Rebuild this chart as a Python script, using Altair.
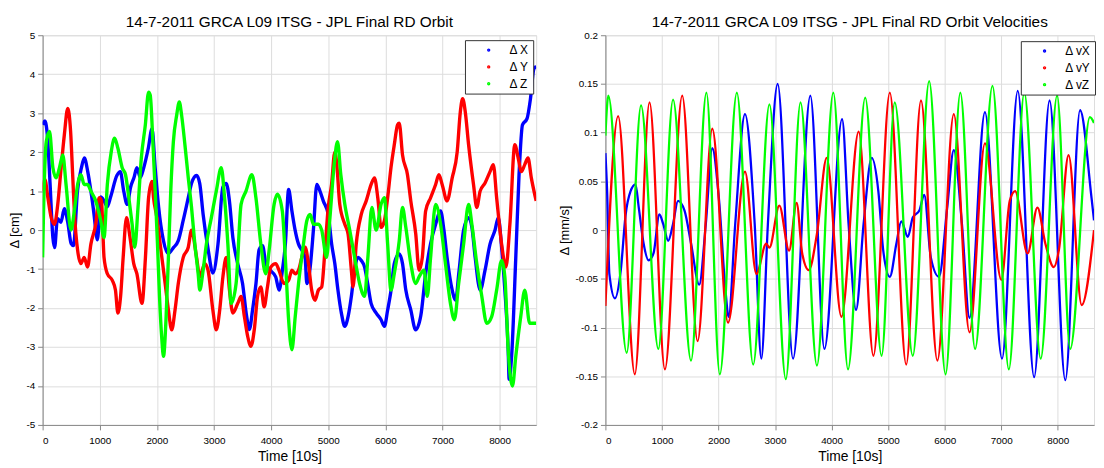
import altair as alt
import pandas as pd

FONT = "Liberation Sans"
COLORS = ["#0000ff", "#ff0000", "#00ff00"]

# ---------------- Position differences [cm] ----------------
pos_names = ["Δ X", "Δ Y", "Δ Z"]

dx_t = [0, 40, 90, 130, 180, 210, 260, 320, 380, 440, 500, 540, 610, 680, 730, 790, 845, 900, 930, 960,
        1017, 1075, 1130, 1190, 1300, 1360, 1420, 1480, 1540, 1600, 1650, 1710, 1770, 1850, 1915, 1970,
        2030, 2115, 2200, 2290, 2375, 2460, 2550, 2607, 2695, 2750, 2810, 2900, 2980, 3070, 3155, 3214,
        3270, 3330, 3415, 3500, 3570, 3620, 3675, 3735, 3790, 3850, 3907, 3965, 4080, 4140, 4200, 4250,
        4306, 4364, 4420, 4480, 4540, 4595, 4625, 4680, 4740, 4800, 4855, 4913, 5000, 5060, 5115, 5170,
        5230, 5290, 5350, 5405, 5460, 5520, 5578, 5636, 5690, 5750, 5840, 5925, 5983, 6040, 6100, 6156,
        6243, 6300, 6358, 6445, 6530, 6620, 6705, 6790, 6880, 6967, 7025, 7080, 7170, 7230, 7285, 7370,
        7457, 7515, 7572, 7660, 7745, 7832, 7920, 7977, 8035, 8092, 8150, 8167, 8210, 8283, 8340, 8400,
        8480, 8540, 8600, 8640]
dx_v = [2.7, 2.8, 2.3, 1.2, -0.2, -0.45, 0.3, 0.2, 0.55, 0.2, -0.35, -0.4, 1.0, 1.6, 1.85, 1.5, 1.0, 0.4, 0.0, -0.25,
        0.85, 0.75, 0.6, 0.85, 1.4, 1.5, 1.0, 0.66, 1.1, 1.35, 1.6, 1.35, 1.6, 2.1, 2.6, 1.6,
        0.6, -0.27, -0.6, -0.45, -0.27, 0.24, 0.83, 1.2, 1.4, 1.2, 0.4, -0.52, -1.1, -0.36, 1.1, 1.2,
        0.75, -0.19, -0.86, -1.37, -2.2, -2.55, -2.05, -1.37, -0.5, -0.4, -0.86, -1.0, -1.2, -1.54, -1.0, -0.35,
        1.04, 0.49, 0.0, -0.36, -0.52, -0.7, -1.37, -1.0, 0.0, 1.17, 1.0, 0.75, 0.4, -0.36, -0.86, -1.54,
        -2.13, -2.47, -2.2, -1.7, -1.03, -0.7, -0.78, -0.95, -1.37, -1.88, -2.13, -2.3, -2.47, -2.05, -1.54, -0.86,
        -0.61, -0.86, -1.54, -2.05, -2.56, -2.2, -1.12, -0.36, 0.15, 0.49, 0.0, -0.7, -1.54, -1.8, -1.12, 0.0,
        0.32, 0.07, -0.7, -1.54, -1.03, -0.36, 0.0, 0.32, -0.44, -1.54, -3.07, -3.83, -3.24, -0.7, 1.42, 2.7,
        2.86, 3.37, 4.14, 4.2]

dy_t = [0, 40, 92, 150, 208, 265, 324, 380, 440, 490, 526, 555, 613, 670, 728, 786, 845, 930, 990, 1030,
        1075, 1133, 1220, 1275, 1318, 1365, 1410, 1468, 1530, 1595, 1650, 1740, 1800, 1855, 1915, 1942,
        2000, 2058, 2145, 2202, 2260, 2318, 2375, 2462, 2550, 2607, 2695, 2751, 2838, 2896, 2980, 3040,
        3100, 3156, 3214, 3271, 3330, 3416, 3474, 3532, 3590, 3647, 3705, 3763, 3820, 3878, 3936, 3994,
        4080, 4138, 4225, 4306, 4364, 4422, 4480, 4537, 4595, 4653, 4710, 4770, 4827, 4885, 4942, 5000,
        5058, 5115, 5145, 5202, 5290, 5347, 5405, 5434, 5490, 5578, 5665, 5751, 5810, 5867, 5925, 5983,
        6040, 6098, 6156, 6214, 6243, 6300, 6387, 6445, 6532, 6590, 6647, 6705, 6792, 6880, 6937, 6994,
        7080, 7170, 7257, 7312, 7353, 7399, 7457, 7543, 7600, 7659, 7745, 7832, 7890, 7948, 8035, 8110,
        8180, 8266, 8325, 8381, 8440, 8497, 8555, 8640]
dy_v = [1.0, 1.3, 0.83, 0.32, 0.15, 0.66, 1.6, 2.44, 3.12, 2.53, 1.42, 0.49, -0.52, -0.86, -0.7, -0.95, -0.36, 0.15, 0.83, 0.75,
        -0.7, -1.12, -1.29, -1.54, -2.13, -1.7, -0.7, 0.32, -0.19, -0.86, -1.12, -1.88, -0.7, 0.83, 1.25, 0.83,
        0.32, -0.36, -1.37, -2.05, -2.56, -2.05, -1.37, -0.7, -0.44, 0.0, -0.7, -1.2, -0.86, -1.03, -2.05, -2.56,
        -2.05, -1.2, -0.7, -1.54, -2.13, -1.88, -1.7, -2.22, -2.73, -2.98, -2.56, -1.7, -1.46, -1.97, -1.46, -0.95,
        -0.86, -1.03, -1.37, -1.29, -1.03, -1.12, -1.03, -0.7, -0.44, -0.86, -1.54, -1.8, -1.54, -1.46, -0.52, 0.58,
        1.17, 2.0, 1.76, 0.66, 0.15, -0.1, -1.03, -1.46, -0.36, 0.4, 0.75, 1.17, 1.34, 0.83, 0.07, 0.24,
        0.83, 1.6, 2.19, 2.7, 2.74, 1.93, 1.42, 0.75, -0.1, -1.03, -0.7, 0.49, 0.83, 1.17, 1.42, 1.17,
        0.75, 1.34, 2.0, 3.03, 3.37, 3.03, 2.19, 1.17, 0.58, 1.0, 1.21, 1.5, 1.68, 0.83, -0.36, -0.95,
        0.15, 2.19, 1.85, 1.5, 1.68, 1.85, 1.34, 0.75]

dz_t = [0, 15, 64, 121, 180, 237, 295, 353, 410, 497, 555, 613, 670, 728, 786, 844, 930, 1017, 1075, 1133,
        1202, 1260, 1318, 1393, 1451, 1509, 1567, 1613, 1670, 1728, 1798, 1855, 1884, 1930, 1971, 2011,
        2046, 2087, 2116, 2162, 2202, 2243, 2289, 2347, 2393, 2433, 2491, 2550, 2607, 2665, 2723, 2751,
        2810, 2867, 2954, 3040, 3127, 3185, 3243, 3300, 3387, 3474, 3560, 3664, 3734, 3820, 3907, 3965,
        4052, 4110, 4196, 4254, 4306, 4364, 4422, 4480, 4566, 4625, 4683, 4740, 4827, 4885, 4971, 5030,
        5104, 5162, 5220, 5290, 5376, 5462, 5549, 5636, 5694, 5763, 5838, 5925, 5983, 6040, 6098, 6156,
        6243, 6300, 6358, 6445, 6532, 6590, 6676, 6734, 6792, 6880, 6967, 7052, 7139, 7208, 7283, 7370,
        7457, 7514, 7600, 7688, 7775, 7861, 7948, 8035, 8092, 8150, 8225, 8283, 8370, 8440, 8526, 8640]
dz_v = [-0.7, 0.4, 2.27, 2.53, 1.6, 1.34, 1.6, 1.93, 1.17, 0.0, 0.49, 1.17, 1.42, 1.17, 1.17, 1.0, 0.75, 0.24, -0.19, 1.17,
        2.02, 2.36, 2.1, 1.6, 1.42, 0.83, 0.15, -0.44, 0.58, 1.85, 2.7, 3.54, 3.46, 2.27, 1.0, -0.36,
        -1.7, -2.8, -3.24, -2.22, -0.7, 1.0, 2.27, 2.95, 3.29, 2.95, 2.19, 1.34, 0.58, -0.36, -1.12, -1.54,
        -1.03, -0.36, 0.32, 1.0, 1.6, 0.83, -0.36, -1.88, -1.37, 0.66, 1.0, 1.42, 0.83, -0.36, -1.12, -0.52,
        0.66, 0.92, 0.49, -0.86, -2.3, -3.07, -2.22, -1.37, -0.36, 0.24, 0.4, 0.15, 0.15, 0.0, -0.7, 0.32,
        1.68, 2.27, 1.42, 0.66, 0.0, -0.7, -1.37, -1.7, -0.7, 0.58, 0.0, 0.66, 0.83, -0.36, -1.54, -1.12,
        -0.27, 0.58, 0.07, -0.86, -1.37, -1.2, -1.03, -1.7, -0.7, 0.66, 0.15, -0.86, -1.88, -2.3, -1.37, -0.36,
        0.66, 0.15, -0.86, -1.7, -2.39, -2.22, -1.54, -0.78, -1.2, -3.07, -4.0, -3.24, -2.22, -1.54, -2.39, -2.39]

# ---------------- Velocity differences [mm/s] ----------------
vel_names = ["Δ vX", "Δ vY", "Δ vZ"]

vx_t = [0, 30, 70, 168, 272, 358, 445, 532, 590, 676, 763, 850, 954, 1023, 1110, 1195, 1283, 1399, 1515, 1659,
        1775, 1890, 2006, 2122, 2179, 2295, 2468, 2640, 2757, 2873, 3046, 3318, 3624, 3873, 4185, 4300,
        4432, 4565, 4710, 4826, 4913, 5029, 5145, 5232, 5348, 5435, 5551, 5638, 5754, 5899, 6044, 6160,
        6305, 6438, 6711, 7013, 7291, 7581, 7854, 8132, 8393, 8596, 8640]
vx_v = [0.079, 0.04, -0.045, -0.07, -0.041, 0.016, 0.04, 0.047, 0.023, -0.014, -0.031, -0.024, 0.016, 0.006, -0.011, 0.006, 0.03, 0.02, -0.014, -0.056,
        0.006, 0.084, 0.033, -0.061, -0.089, 0.006, 0.119, 0.006, -0.132, 0.006, 0.15, -0.132, 0.138, -0.122, 0.114, 0.006,
        -0.082, 0.006, 0.074, 0.04, -0.021, -0.048, -0.014, 0.009, -0.007, 0.013, 0.02, 0.036, -0.028, -0.048, 0.023, 0.082,
        0.006, -0.09, 0.121, -0.132, 0.143, -0.151, 0.133, -0.154, 0.123, 0.033, 0.01]

vy_t = [0, 225, 520, 780, 1052, 1358, 1630, 1890, 2168, 2468, 2670, 2844, 2900, 3075, 3248, 3381, 3480, 3595, 3740, 3913,
        4173, 4478, 4739, 5029, 5319, 5580, 5870, 6160, 6438, 6711, 7001, 7150, 7245, 7465, 7639, 7780, 7929, 8020,
        8190, 8422, 8640]
vy_v = [-0.078, 0.117, -0.148, 0.131, -0.143, 0.138, -0.114, 0.104, -0.095, 0.06, -0.045, -0.014, -0.018, 0.025, -0.021, 0.028, -0.024, -0.041, -0.004, 0.074,
        -0.089, 0.101, -0.129, 0.141, -0.138, 0.133, -0.134, 0.119, -0.105, 0.089, -0.051, 0.03, 0.04, -0.024, 0.023, -0.014, -0.038, -0.02,
        0.077, -0.077, 0.0]

vz_t = [0, 52, 376, 630, 936, 1196, 1514, 1786, 2023, 2324, 2613, 2900, 3190, 3450, 3740, 4030, 4290, 4594, 4884, 5116,
        5435, 5725, 6015, 6276, 6537, 6844, 7134, 7407, 7697, 7987, 8219, 8567, 8640]
vz_v = [0.097, 0.138, -0.126, 0.128, -0.122, 0.134, -0.134, 0.141, -0.148, 0.141, -0.138, 0.129, -0.153, 0.131, -0.139, 0.141, -0.143, 0.136, -0.129, 0.131,
        -0.129, 0.153, -0.148, 0.141, -0.122, 0.148, -0.143, 0.141, -0.132, 0.138, -0.122, 0.116, 0.11]

x_ticks = [0, 1000, 2000, 3000, 4000, 5000, 6000, 7000, 8000]
pos_ticks = [-5, -4, -3, -2, -1, 0, 1, 2, 3, 4, 5]
vel_ticks = [-0.2, -0.15, -0.1, -0.05, 0, 0.05, 0.1, 0.15, 0.2]


def frame(names, series):
    rows = []
    for name, (ts, vs) in zip(names, series):
        for t, v in zip(ts, vs):
            rows.append({"t": t, "v": v, "s": name})
    return pd.DataFrame(rows)


pos_df = frame(pos_names, [(dx_t, dx_v), (dy_t, dy_v), (dz_t, dz_v)])
vel_df = frame(vel_names, [(vx_t, vx_v), (vy_t, vy_v), (vz_t, vz_v)])


def panel(df, names, title, ytitle, ydomain, yticks, width, extent, tpad, stroke, lx, ly):
    legend = alt.Legend(
        title=None, orient="none", legendX=lx, legendY=ly,
        strokeColor="#333333", fillColor="white", padding=4,
        symbolType="circle", symbolSize=2, symbolStrokeWidth=2,
        labelFont=FONT, labelFontSize=12, labelColor="black",
        labelOffset=15, symbolOffset=14, rowPadding=5,
    )
    return alt.Chart(df).mark_line(
        strokeWidth=stroke, interpolate="monotone", clip=True
    ).encode(
        x=alt.X("t:Q", scale=alt.Scale(domain=[0, 8640], nice=False, zero=False),
                axis=alt.Axis(values=x_ticks, format="d", title="Time [10s]",
                              titleFontSize=14, titleFontWeight="normal",
                              labelPadding=6, titlePadding=4)),
        y=alt.Y("v:Q", scale=alt.Scale(domain=ydomain, nice=False, zero=False),
                axis=alt.Axis(values=yticks, labelExpr="'' + datum.value", title=ytitle,
                              titleFontSize=13, titleFontWeight="normal",
                              labelPadding=3, titlePadding=tpad,
                              minExtent=extent, maxExtent=extent)),
        color=alt.Color("s:N", scale=alt.Scale(domain=names, range=COLORS), legend=legend),
    ).properties(
        width=width, height=394,
        title=alt.TitleParams(title, fontSize=15.5, fontWeight="normal", font=FONT,
                              color="black", anchor="middle", offset=0),
    )


left = panel(pos_df, pos_names, "14-7-2011 GRCA L09 ITSG - JPL Final RD Orbit",
             "Δ [cm]", [-5, 5], pos_ticks, 499, 14, 7, 3.4, 427, 5)
right = panel(vel_df, vel_names, "14-7-2011 GRCA L09 ITSG - JPL Final RD Orbit Velocities",
              "Δ [mm/s]", [-0.2, 0.2], vel_ticks, 494, 30, 4, 2.3, 420, 6)

chart = alt.hconcat(left, right, spacing=21).resolve_scale(
    color="independent"
).properties(
    padding={"left": 0, "top": 4, "right": 0, "bottom": 0}
).configure_axis(
    grid=True, gridColor="#9a9a9a", gridDash=[1, 2], gridWidth=1,
    domain=False, ticks=False,
    labelFont=FONT, labelFontSize=11, labelColor="black",
    titleFont=FONT, titleColor="black", titleFontWeight="normal",
).configure_view(
    stroke="#404040", strokeWidth=1
).configure(background="white")

chart.save("out.html", embed_options={"renderer": "svg", "actions": False})
